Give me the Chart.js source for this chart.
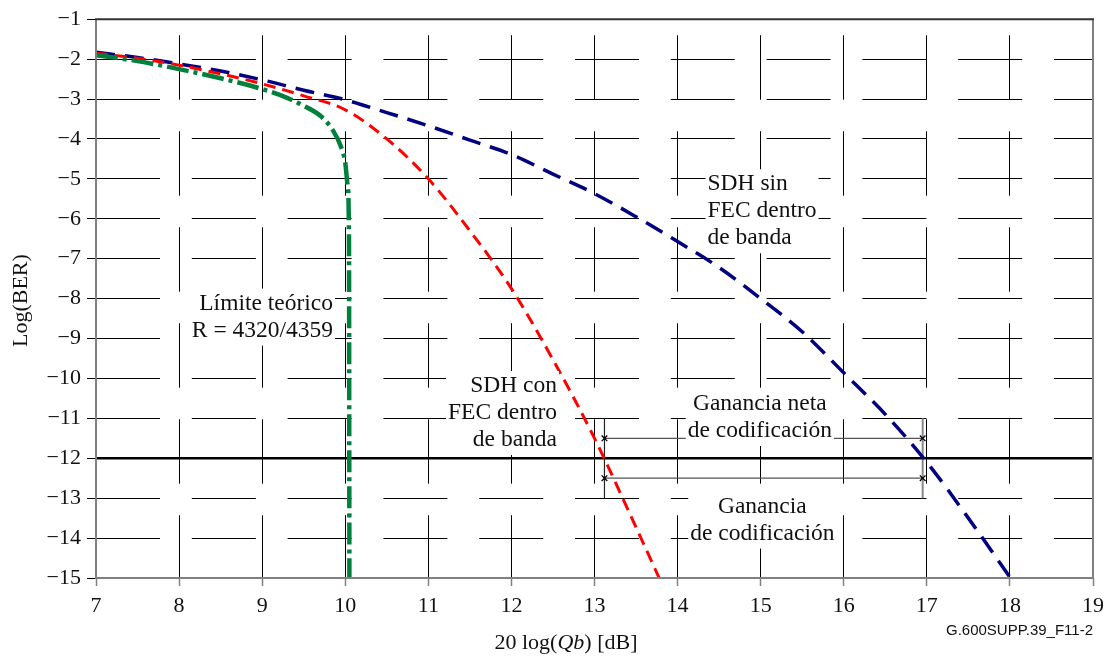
<!DOCTYPE html>
<html>
<head>
<meta charset="utf-8">
<script src="https://cdn.jsdelivr.net/npm/chart.js@4/dist/chart.umd.min.js"></script>
<style>
html, body { margin: 0; padding: 0; background: #fff; }
#wrap { width: 1108px; height: 660px; }
</style>
</head>
<body>
<div id="wrap"><canvas id="grafica"></canvas></div>
<script>
// SDH SIN FEC DENTRO DE BANDA (AZUL)
const sinFecQ   = [7, 7.5, 8, 8.5, 9, 9.5, 10, 10.5, 11, 11.5, 12, 12.5, 13, 13.5, 14, 14.5, 15, 15.5, 16, 16.5, 17, 17.5, 18];
const sinFecBer = [-1.83, -1.96, -2.12, -2.3, -2.52, -2.78, -3.02, -3.34, -3.67, -4.03, -4.39, -4.88, -5.37, -5.95, -6.57, -7.22, -8.0, -8.83, -9.86, -10.9, -12.1, -13.5, -14.98];

// SDH CON FEC DENTRO DE BANDA (ROJO)
const conFecQ   = [7, 7.5, 8, 8.5, 9, 9.5, 10, 10.5, 11, 11.5, 12, 12.5, 13, 13.5, 13.8];
const conFecBer = [-1.85, -1.98, -2.15, -2.37, -2.62, -2.92, -3.27, -4.0, -5.0, -6.3, -7.75, -9.53, -11.5, -13.73, -15.1];

// LIMITE TEORICO (VERDE)
const limiteQ   = [7, 7.5, 8, 8.5, 9, 9.3, 9.5, 9.7, 9.85, 9.95, 10.0, 10.03, 10.045, 10.05];
const limiteBer = [-1.9, -2.05, -2.25, -2.48, -2.75, -2.97, -3.17, -3.42, -3.78, -4.2, -4.6, -5.2, -6.5, -15.1];

// UMBRAL Y GANANCIAS
const umbralQ = [7, 19];
const umbralBer = [-12, -12];
const gananciaQ = [13.12, 16.95];
const gananciaNetaBer = [-11.5, -11.5];
const gananciaBer = [-12.5, -12.5];
const corchetesBer = [-11, -13];

// EJES
const ejeX = { min: 7, max: 19 };
const ejeY = { min: -15, max: -1 };

// TEXTOS DENTRO DE LA GRAFICA (posicion en unidades de los ejes)
const textosLineas = [
    ['Límite teórico', 'R = 4320/4359'],
    ['SDH con', 'FEC dentro', 'de banda'],
    ['SDH sin', 'FEC dentro', 'de banda'],
    ['Ganancia neta', 'de codificación'],
    ['Ganancia', 'de codificación']
];
const textosQ = [9.853, 12.549, 14.36, 14.99, 15.02];
const textosBer = [-8.125, -10.19, -5.135, -10.64, -13.21];
const textosAlinear = ['right', 'right', 'left', 'center', 'center'];

function puntos(xs, ys) {
    return xs.map((x, i) => ({ x: x, y: ys[i] }));
}

const serif = "'Liberation Serif', 'Times New Roman', serif";

// PLUGIN PARA MARCO, TEXTOS Y TITULOS
const extras = {
    id: 'extras',
    afterDatasetsDraw(chart) {
        const ctx = chart.ctx;
        const a = chart.chartArea;
        const sx = chart.scales.x, sy = chart.scales.y;
        ctx.save();
        // marco
        ctx.lineWidth = 2;
        ctx.strokeStyle = '#808080';
        ctx.beginPath();
        ctx.moveTo(a.left, a.top);
        ctx.lineTo(a.left, a.bottom);
        ctx.lineTo(a.right, a.bottom);
        ctx.lineTo(a.right, a.top);
        ctx.stroke();
        ctx.strokeStyle = '#333';
        ctx.beginPath();
        ctx.moveTo(a.left - 1, a.top);
        ctx.lineTo(a.right + 1, a.top);
        ctx.stroke();

        // textos con fondo blanco
        ctx.font = '23.5px ' + serif;
        ctx.textBaseline = 'middle';
        const paso = 27;
        textosLineas.forEach((lineas, i) => {
            const px = sx.getPixelForValue(textosQ[i]);
            const py = sy.getPixelForValue(textosBer[i]);
            const anchoMax = Math.max(...lineas.map(l => ctx.measureText(l).width));
            let x0;
            if (textosAlinear[i] === 'right') x0 = px - anchoMax;
            else if (textosAlinear[i] === 'left') x0 = px;
            else x0 = px - anchoMax / 2;
            ctx.fillStyle = '#fff';
            ctx.fillRect(x0 - 2, py - 15, anchoMax + 4, paso * (lineas.length - 1) + 30);
            ctx.fillStyle = '#111';
            ctx.textAlign = textosAlinear[i];
            lineas.forEach((l, j) => ctx.fillText(l, px, py + j * paso));
        });

        // titulo eje x: 20 log(Qb) [dB]
        const partes = [['20 log(', ''], ['Qb', 'italic '], [') [dB]', '']];
        let total = 0;
        partes.forEach(p => { ctx.font = p[1] + '22px ' + serif; total += ctx.measureText(p[0]).width; });
        let cx = 566 - total / 2;
        ctx.textAlign = 'left';
        partes.forEach(p => {
            ctx.font = p[1] + '22px ' + serif;
            ctx.fillText(p[0], cx, 643);
            cx += ctx.measureText(p[0]).width;
        });

        // titulo eje y
        ctx.save();
        ctx.translate(21, (a.top + a.bottom) / 2 + 2);
        ctx.rotate(-Math.PI / 2);
        ctx.textAlign = 'center';
        ctx.font = '22px ' + serif;
        ctx.fillText('Log(BER)', 0, 0);
        ctx.restore();

        // referencia
        ctx.font = "15px 'Liberation Sans', Arial, sans-serif";
        ctx.textAlign = 'right';
        ctx.fillText('G.600SUPP.39_F11-2', a.right, 631);
        ctx.restore();
    }
};

const bordes = v => (v === ejeX.min || v === ejeX.max || v === ejeY.min || v === ejeY.max || v === -12);

new Chart(document.getElementById('grafica').getContext('2d'), {
    type: 'line',
    data: {
        datasets: [
            {
                data: puntos(limiteQ, limiteBer),
                borderColor: '#00803c',
                borderWidth: 4.5,
                borderDash: [22, 5, 4, 5],
                pointRadius: 0,
                cubicInterpolationMode: 'monotone'
            },
            {
                data: puntos(conFecQ, conFecBer),
                borderColor: '#ff0000',
                borderWidth: 3,
                borderDash: [12, 7],
                pointRadius: 0,
                cubicInterpolationMode: 'monotone'
            },
            {
                data: puntos(sinFecQ, sinFecBer),
                borderColor: '#000080',
                borderWidth: 3.5,
                borderDash: [19, 10],
                pointRadius: 0,
                cubicInterpolationMode: 'monotone'
            },
            {
                data: puntos(gananciaQ, gananciaNetaBer),
                borderColor: '#555',
                borderWidth: 1.2,
                pointStyle: 'crossRot',
                pointRadius: 4,
                pointBorderColor: '#000',
                pointBorderWidth: 1.3
            },
            {
                data: puntos(gananciaQ, gananciaBer),
                borderColor: '#555',
                borderWidth: 1.2,
                pointStyle: 'crossRot',
                pointRadius: 4,
                pointBorderColor: '#000',
                pointBorderWidth: 1.3
            },
            {
                data: puntos([gananciaQ[0], gananciaQ[0]], corchetesBer),
                borderColor: '#222',
                borderWidth: 1.2,
                pointRadius: 0
            },
            {
                data: puntos([gananciaQ[1], gananciaQ[1]], corchetesBer),
                borderColor: '#888',
                borderWidth: 2,
                pointRadius: 0
            },
            {
                data: puntos(umbralQ, umbralBer),
                borderColor: '#000',
                borderWidth: 2.5,
                pointRadius: 0
            }
        ]
    },
    options: {
        animation: false,
        responsive: true,
        maintainAspectRatio: false,
        layout: { padding: { left: 0, right: 15, top: 16, bottom: 0 } },
        plugins: {
            legend: { display: false },
            tooltip: { enabled: false }
        },
        scales: {
            x: {
                type: 'linear',
                min: ejeX.min,
                max: ejeX.max,
                afterFit: s => { s.height = 82; s.paddingLeft = 0; s.paddingRight = 0; },
                ticks: {
                    stepSize: 1,
                    autoSkip: false,
                    maxRotation: 0,
                    padding: 7,
                    color: '#111',
                    font: { family: serif, size: 22 }
                },
                grid: {
                    color: c => (c.tick && bordes(c.tick.value)) ? 'rgba(0,0,0,0)' : '#000',
                    lineWidth: 1,
                    tickColor: '#808080',
                    tickLength: 8,
                    tickWidth: 1.5,
                    tickBorderDash: []
                },
                border: { display: false, dash: [64.5, 31.5], dashOffset: 80 }
            },
            y: {
                type: 'linear',
                min: ejeY.min,
                max: ejeY.max,
                afterFit: s => { s.width = 96; },
                ticks: {
                    stepSize: 1,
                    autoSkip: false,
                    padding: 6,
                    color: '#111',
                    font: { family: serif, size: 22 },
                    callback: v => String(v).replace('-', '\u2212')
                },
                grid: {
                    color: c => (c.tick && bordes(c.tick.value)) ? 'rgba(0,0,0,0)' : '#000',
                    lineWidth: 1,
                    tickColor: '#000',
                    tickLength: 9,
                    tickWidth: 1,
                    tickBorderDash: []
                },
                border: { display: false, dash: [64, 31.8], dashOffset: 0 }
            }
        }
    },
    plugins: [extras]
});
</script>
</body>
</html>
